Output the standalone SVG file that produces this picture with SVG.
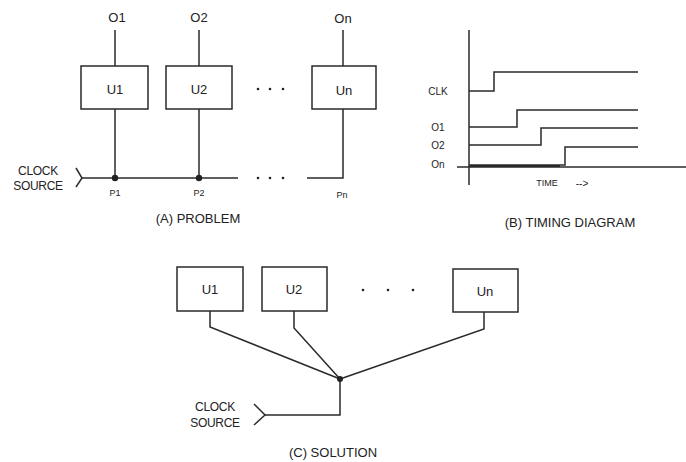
<svg xmlns="http://www.w3.org/2000/svg" width="686" height="462" viewBox="0 0 686 462">
<style>
.w{stroke:#2a2a2a;stroke-width:1.5;fill:none}
.b{stroke:#2a2a2a;stroke-width:1.5;fill:#fff}
.t{font-family:"Liberation Sans",Arial,sans-serif;fill:#222;text-anchor:middle;dominant-baseline:central}
.l{font-size:13px}
.s{font-size:9px}
.m{font-size:10px}
.c{font-size:12px;letter-spacing:-0.3px}
.d{fill:#222}
</style>
<rect width="686" height="462" fill="#fff"/>

<!-- (A) PROBLEM -->
<g id="connectorsA">
<line class="w" x1="115" y1="30" x2="115" y2="66"/>
<line class="w" x1="199" y1="30" x2="199" y2="66"/>
<line class="w" x1="343" y1="30" x2="343" y2="66"/>
<line class="w" x1="115" y1="109" x2="115" y2="178"/>
<line class="w" x1="199" y1="109" x2="199" y2="178"/>
<polyline class="w" points="343,109 343,178 307,178"/>
<line class="w" x1="82" y1="178" x2="238" y2="178"/>
<polyline class="w" points="76,168 82,178 76,187"/>
<circle class="d" cx="115" cy="178" r="3.2"/>
<circle class="d" cx="199" cy="178" r="3.2"/>
</g>
<g id="A_U1"><rect class="b" x="81" y="66" width="67" height="43"/><text class="t l" x="115" y="89">U1</text></g>
<g id="A_U2"><rect class="b" x="166" y="66" width="66" height="43"/><text class="t l" x="199" y="89">U2</text></g>
<g id="A_Un"><rect class="b" x="312" y="66" width="64" height="43"/><text class="t l" x="344" y="90">Un</text></g>
<g id="A_labels">
<text class="t l" x="117" y="17">O1</text>
<text class="t l" x="199" y="17">O2</text>
<text class="t l" x="343" y="18">On</text>
<circle class="d" cx="258" cy="89" r="1.3"/>
<circle class="d" cx="270" cy="89" r="1.3"/>
<circle class="d" cx="283" cy="89" r="1.3"/>
<circle class="d" cx="258" cy="178" r="1.3"/>
<circle class="d" cx="270" cy="178" r="1.3"/>
<circle class="d" cx="283" cy="178" r="1.3"/>
<text class="t s" x="115" y="193">P1</text>
<text class="t s" x="199" y="193">P2</text>
<text class="t s" x="342" y="195">Pn</text>
<text class="t c" x="38" y="171">CLOCK</text>
<text class="t c" x="38" y="185.5">SOURCE</text>
<text class="t l" x="198" y="218">(A) PROBLEM</text>
</g>

<!-- (B) TIMING DIAGRAM -->
<g id="timing">
<line class="w" x1="469" y1="30" x2="469" y2="185"/>
<line class="w" x1="457" y1="167" x2="686" y2="167"/>
<polyline class="w" points="469,91 494,91 494,72 638,72"/>
<polyline class="w" points="469,127 517,127 517,110 638,110"/>
<polyline class="w" points="469,145 541,145 541,128 638,128"/>
<polyline class="w" points="469,165 565,165 565,147 638,147"/>
<line stroke="#2a2a2a" stroke-width="2" x1="470" y1="166" x2="560" y2="166"/>
<text class="t m" x="438" y="91">CLK</text>
<text class="t m" x="438" y="127">O1</text>
<text class="t m" x="438" y="145">O2</text>
<text class="t m" x="438" y="164">On</text>
<text class="t s" x="547" y="183">TIME</text>
<text class="t m" x="582" y="183">--&gt;</text>
<text class="t l" x="570" y="222">(B) TIMING DIAGRAM</text>
</g>

<!-- (C) SOLUTION -->
<g id="connectorsC">
<polyline class="w" points="210,311 210,327 340,379"/>
<polyline class="w" points="294,311 294,328 340,379"/>
<polyline class="w" points="484,312 484,329 340,379"/>
<polyline class="w" points="340,379 340,415 265,415"/>
<polyline class="w" points="254,404 265,415 254,425"/>
<circle class="d" cx="340" cy="379" r="3"/>
</g>
<g id="C_U1"><rect class="b" x="177" y="267" width="66" height="44"/><text class="t l" x="210" y="289">U1</text></g>
<g id="C_U2"><rect class="b" x="262" y="267" width="65" height="44"/><text class="t l" x="294" y="289">U2</text></g>
<g id="C_Un"><rect class="b" x="453" y="269" width="65" height="43"/><text class="t l" x="485" y="291">Un</text></g>
<g id="C_labels">
<circle class="d" cx="363" cy="290" r="1.3"/>
<circle class="d" cx="388" cy="290" r="1.3"/>
<circle class="d" cx="413" cy="290" r="1.3"/>
<text class="t c" x="215" y="407">CLOCK</text>
<text class="t c" x="215" y="423">SOURCE</text>
<text class="t l" x="333" y="452">(C) SOLUTION</text>
</g>
</svg>
